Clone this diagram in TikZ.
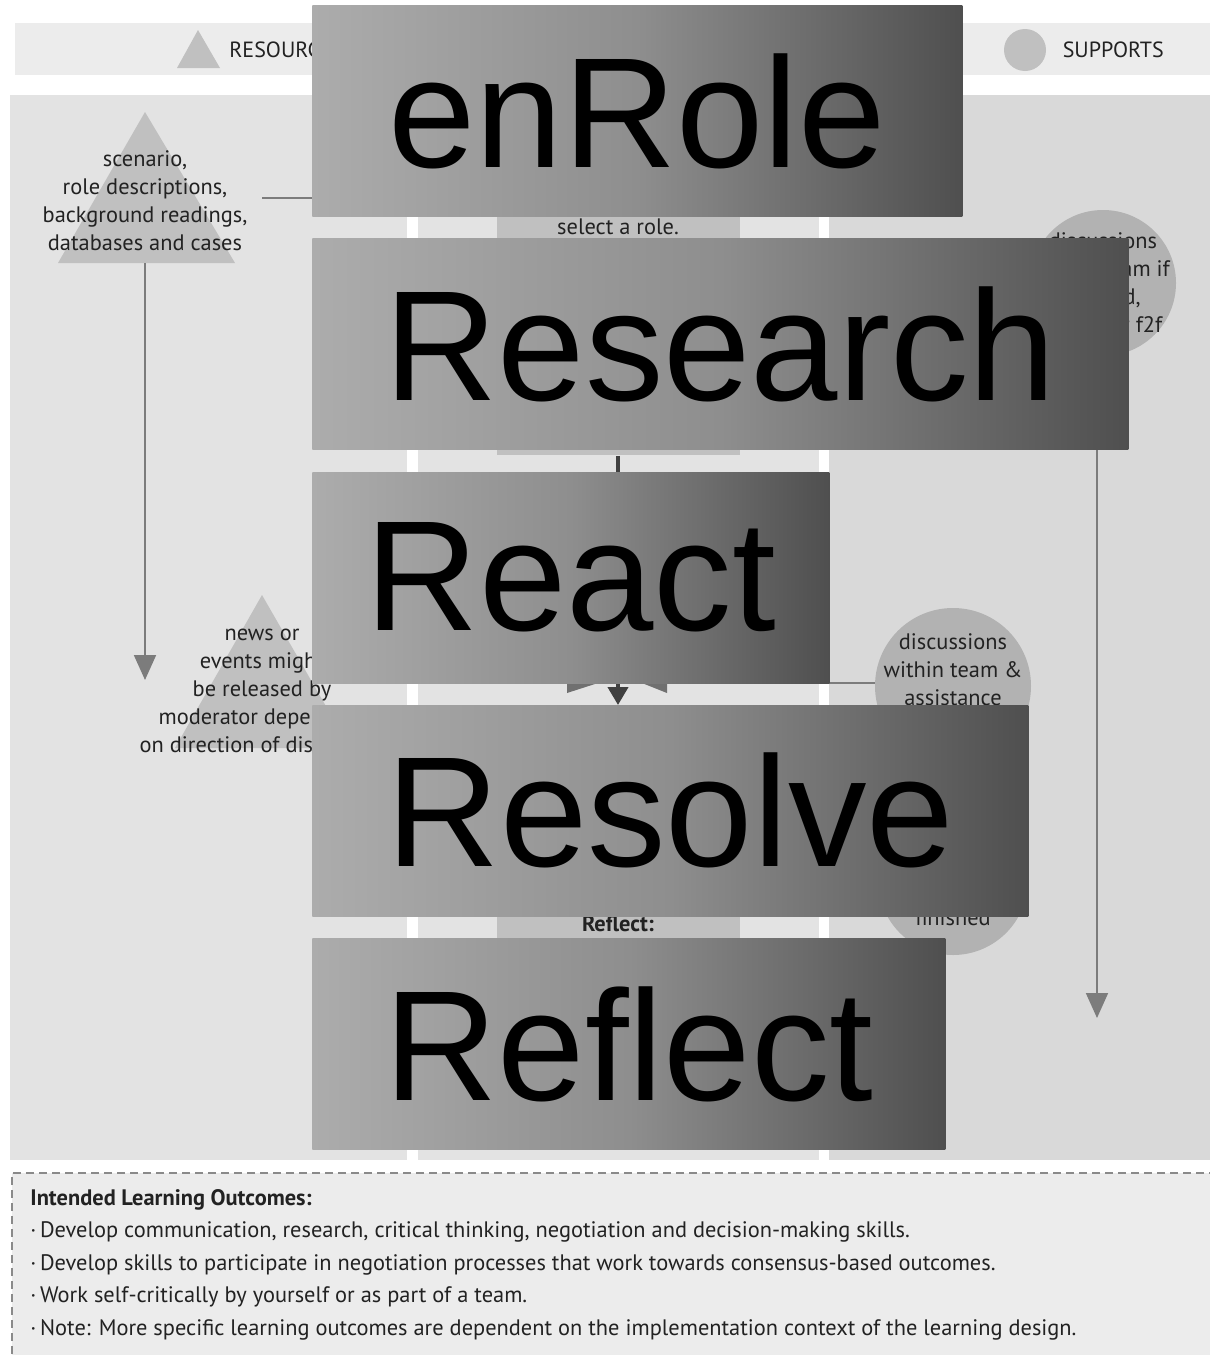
\documentclass[tikz,border=0pt]{standalone}
\usepackage{fontspec}
\setmainfont{PT Sans}
\newfontfamily\phasefont{Liberation Sans}
\usetikzlibrary{positioning}
\usetikzlibrary{arrows.meta}

\definecolor{headerfill}{HTML}{ECECEC}
\definecolor{panelfill}{HTML}{E3E3E3}
\definecolor{supportpanel}{HTML}{D9D9D9}
\definecolor{shapefill}{HTML}{C0C0C0}
\definecolor{supportfill}{HTML}{B2B2B2}
\definecolor{linkgray}{HTML}{7C7C7C}
\definecolor{flowdark}{HTML}{404040}
\definecolor{chevronfill}{HTML}{707070}
\definecolor{textgray}{HTML}{222222}
\definecolor{phaseleft}{HTML}{ACACAC}
\definecolor{phasemid}{HTML}{8E8E8E}
\definecolor{phaseright}{HTML}{4F4F4F}
\definecolor{outfill}{HTML}{ECECEC}
\definecolor{dashgray}{HTML}{8A8A8A}

\begin{document}
\begin{tikzpicture}
    [
    x=0.5pt, y=-0.5pt,
    txt/.style={font=\fontsize{11.2}{14}\selectfont, align=center, text=textgray, inner sep=0pt},
    keytxt/.style={txt, font=\fontsize{11}{13}\selectfont},
    support/.style={circle, fill=supportfill, inner sep=0pt, minimum size=#1},
    taskbox/.style={fill=shapefill, minimum width=121.5pt, inner sep=0pt},
    phase/.style={anchor=north west, minimum width=#1, minimum height=105.5pt, inner sep=0pt,
        left color=phaseleft, right color=phaseright, middle color=phasemid,
        text=black, font=\phasefont\fontsize{78.5}{80}\selectfont},
    link/.style={draw=linkgray, line width=0.9pt},
    flow/.style={link, -{Triangle[width=11pt,length=12.5pt]}},
    mainflow/.style={draw=flowdark, line width=2pt, -{Triangle[width=10pt,length=9pt]}},
    ]

    \useasboundingbox (0,0) rectangle (1210,1355);

    % key bar
    \fill[headerfill] (15,23) rectangle (1210,75);
    \fill[shapefill] (177,68) -- (198,30) -- (220,68) -- cycle;
    \node[keytxt, anchor=west] (key_resources) at (229,50) {RESOURCES};
    \node[circle, fill=shapefill, minimum size=21pt, inner sep=0pt] (key_dot) at (1025,50) {};
    \node[keytxt, right=8pt of key_dot] (key_supports) {SUPPORTS};

    % columns
    \fill[panelfill] (10,95) rectangle (407,1160);
    \fill[panelfill] (418,95) rectangle (819,1160);
    \fill[supportpanel] (829,95) rectangle (1210,1160);

    % resources
    \fill[shapefill] (58,263) -- (145,112) -- (235,263) -- cycle;
    \node[txt] (res_scenario) at (145,201)
    {scenario,\\role descriptions,\\background readings,\\databases and cases};
    \fill[shapefill] (175,748) -- (262,595) -- (350,748) -- cycle;
    \node[txt] (res_news) at (262,691)
    {news or\\events might\\be released by\\moderator depending\\on direction of discussion};

    % tasks
    \node[taskbox, minimum height=172.5pt, anchor=north] (task_enrole) at (618,110) {};
    \node[txt] (task_enrole_note) at (618,227) {select a role.};
    \fill[chevronfill] (567,655) -- (567,693) -- (598,683) -- (642,683) -- (667,693) -- (667,655) -- cycle;
    \node[taskbox, minimum height=105pt, anchor=north] (task_reflect) at (618,912) {};
    \node[txt, font=\bfseries\fontsize{11.2}{14}\selectfont] (task_reflect_head) at (618,924) {Reflect:};

    \coordinate (res_scenario_out) at (262,198);
    \coordinate (res_scenario_foot) at (145,263);
    \coordinate (res_scenario_end) at (145,680);
    \coordinate (task_react_tip) at (618,705);
    \coordinate (task_react_out) at (740,683);
    \coordinate (task_reflect_end) at (618,1150);

    \draw[link] (res_scenario_out) -- (res_scenario_out -| task_enrole.west);
    \draw[flow] (res_scenario_foot) -- (res_scenario_end);
    \draw[mainflow] (task_enrole.south) -- (task_react_tip);
    \draw[mainflow] (task_reflect.south) -- (task_reflect_end);

    % supports
    \node[support=73pt] (sup_online) at (1103,283) {};
    \node[txt] (sup_online_txt) at (sup_online)
    {discussions\\within team if\\needed,\\online or f2f};
    \coordinate (sup_online_end) at (1097,1018);
    \draw[flow] (sup_online.south -| sup_online_end) -- (sup_online_end);

    \node[support=78pt] (sup_team) at (953,686) {};
    \node[txt] (sup_team_txt) at (953,684)
    {discussions\\within team \&\\assistance\\from moderator};
    \draw[link] (task_react_out) -- (task_react_out -| sup_team.west);

    \node[support=75pt] (sup_done) at (953,880) {};
    \node[txt] (sup_done_txt) at (953,918) {finished};

    % phases
    \node[phase=325pt] (phase_enrole) at (312,5) {enRole};
    \node[phase=408pt, below=10.75pt of phase_enrole.south west, anchor=north west] (phase_research) {Research};
    \node[phase=258.5pt, below=10.75pt of phase_research.south west, anchor=north west] (phase_react) {React};
    \node[phase=358pt, below=10.75pt of phase_react.south west, anchor=north west] (phase_resolve) {Resolve};
    \node[phase=316.5pt, below=10.75pt of phase_resolve.south west, anchor=north west] (phase_reflect) {Reflect};

    % outcomes
    \fill[outfill] (12,1173) rectangle (1215,1380);
    \draw[dashgray, line width=0.8pt, dash pattern=on 4pt off 2.5pt] (12,1380) -- (12,1173) -- (1215,1173);
    \node[txt, anchor=north west, align=left, font=\fontsize{11.2}{16.25}\selectfont] (outcomes) at (30,1189)
    {\textbf{Intended Learning Outcomes:}\\
    ·\,Develop communication, research, critical thinking, negotiation and decision-making skills.\\
    ·\,Develop skills to participate in negotiation processes that work towards consensus-based outcomes.\\
    ·\,Work self-critically by yourself or as part of a team.\\
    ·\,Note: More specific learning outcomes are dependent on the implementation context of the learning design.};
\end{tikzpicture}
\end{document}
